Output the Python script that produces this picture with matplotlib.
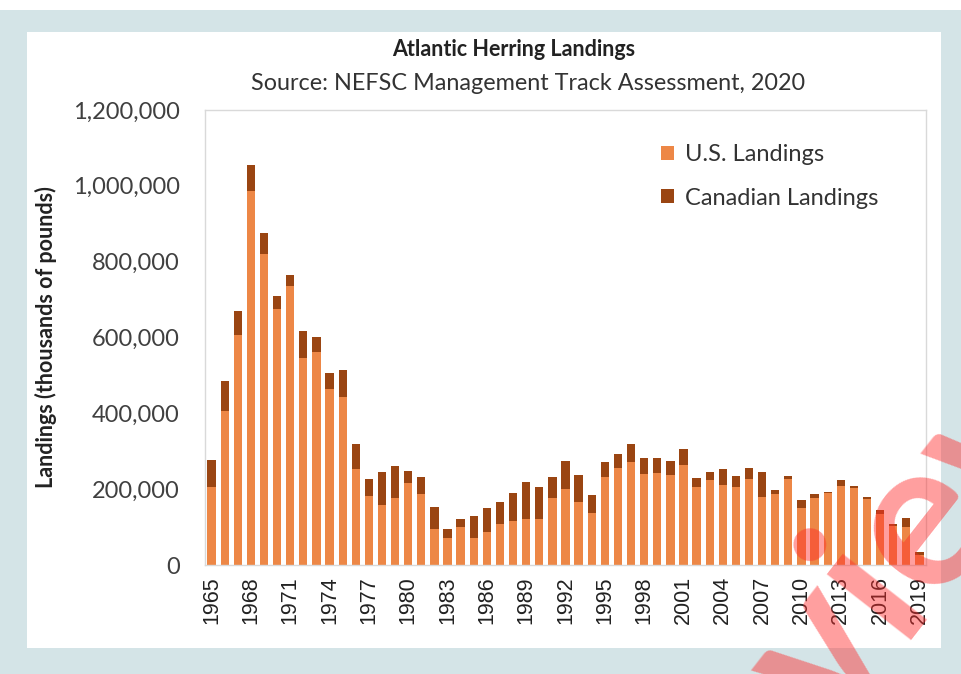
import matplotlib.pyplot as plt
import numpy as np
from matplotlib.patches import Rectangle
from matplotlib.ticker import StrMethodFormatter

# landings, thousands of pounds
years = list(range(1965, 2020))
us_landings = [205000, 407000, 607000, 986000, 820000, 676000, 736000, 547000, 563000, 464000,
               444000, 253000, 183000, 157000, 176000, 216000, 186000, 94000, 71000, 101000,
               72000, 86000, 108000, 116000, 121000, 121000, 176000, 201000, 167000, 138000,
               231000, 257000, 272000, 239000, 242000, 238000, 264000, 205000, 223000, 210000,
               205000, 228000, 180000, 186000, 228000, 150000, 178000, 189000, 208000, 204000,
               175000, 135000, 103000, 99000, 26000]
canadian_landings = [73000, 78000, 64000, 70000, 55000, 34000, 29000, 69000, 38000, 42000,
                     70000, 66000, 44000, 88000, 84000, 32000, 45000, 60000, 24000, 20000,
                     58000, 64000, 59000, 74000, 98000, 84000, 55000, 74000, 71000, 47000,
                     40000, 35000, 47000, 42000, 39000, 36000, 43000, 25000, 22000, 42000,
                     29000, 28000, 65000, 12000, 7000, 22000, 8000, 4000, 15000, 5000,
                     4000, 11000, 5000, 25000, 8000]
tick_years = years[::3]

plt.rcParams['font.family'] = ['Lato', 'DejaVu Sans']

fig = plt.figure(figsize=(9.61, 6.74), dpi=100, facecolor='#d4e4e7')
# white panel inside the blue frame
fig.patches.append(Rectangle((27 / 961, 1 - 648 / 674), 914 / 961, 616 / 674,
                             transform=fig.transFigure, facecolor='white', edgecolor='none', zorder=-10))
fig.patches.append(Rectangle((0, 1 - 10 / 674), 1, 10 / 674,
                             transform=fig.transFigure, facecolor='white', edgecolor='none', zorder=-10))

ax = fig.add_axes([205 / 961, 1 - 565 / 674, 721 / 961, 455 / 674], zorder=1)
ax.set_facecolor('white')
x = np.arange(len(years))
ax.bar(x, us_landings, width=0.63, color='#ed8746', label='U.S. Landings')
ax.bar(x, canadian_landings, width=0.63, bottom=us_landings, color='#9a4512', label='Canadian Landings')

ax.set_xlim(-0.5, len(years) - 0.5)
ax.set_ylim(0, 1200000)
ax.set_yticks(np.arange(0, 1200001, 200000))
ax.yaxis.set_major_formatter(StrMethodFormatter('{x:,.0f}'))
ax.set_xticks(x[::3])
ax.set_xticklabels(tick_years, rotation=90, fontsize=15.5, family=['Liberation Sans'], color='#222222')
ax.tick_params(axis='y', length=0, pad=18, labelsize=17, labelcolor='#404040')
ax.tick_params(axis='x', length=0, pad=8)
for s in ax.spines.values():
    s.set_color('#d9d9d9')
    s.set_linewidth(1)

ax.set_ylabel('Landings (thousands of pounds)', fontsize=15.5, fontweight='bold', color='#222222')
ax.yaxis.set_label_coords(-0.205, 0.5)

fig.text(0.535, 1 - 50 / 674, 'Atlantic Herring Landings', ha='center', va='center',
         fontsize=15.5, fontweight='bold', color='#222222')
fig.text(0.55, 1 - 83 / 674, 'Source: NEFSC Management Track Assessment, 2020', ha='center', va='center',
         fontsize=16.8, color='#333333')

ax.legend(loc='upper left', bbox_to_anchor=(640 / 961, 1 - 123 / 674), bbox_transform=fig.transFigure,
          frameon=False, fontsize=17, handlelength=0.55, handleheight=0.55, handletextpad=0.45,
          labelspacing=0.95, labelcolor='#333333')

# watermark
fig.text(862 / 961, 1 - 590 / 674, 'review', fontsize=150, fontweight='bold', color='#ff2a2a',
         alpha=0.45, rotation=52, ha='center', va='center', zorder=10)

fig.savefig('out.png', dpi=100, facecolor=fig.get_facecolor())
